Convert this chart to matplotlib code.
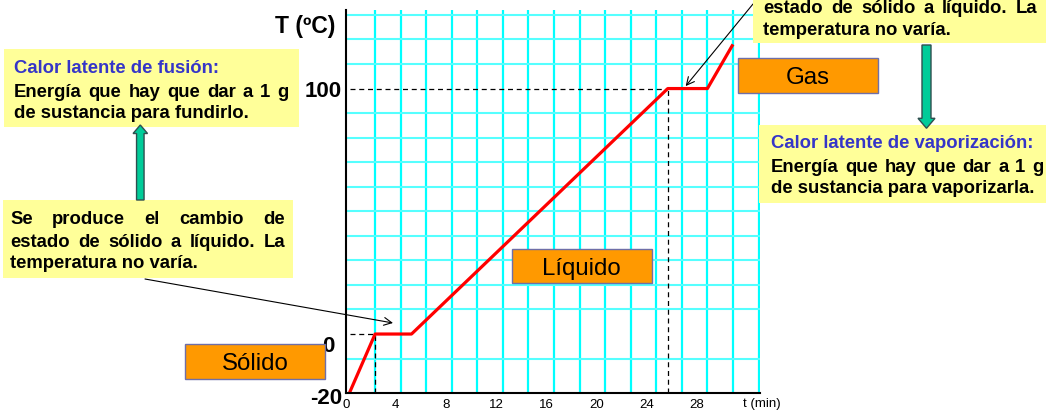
import numpy as np
import matplotlib
matplotlib.use('Agg')
from matplotlib import pyplot as plt
from matplotlib import patches
from matplotlib.transforms import Affine2D, ScaledTranslation

plt.rcParams['font.family'] = ['Liberation Sans', 'DejaVu Sans']

# heating curve (time in min, temperature in ºC)
t_min = [0, 2.0, 4.85, 24.9, 28.0, 30.0]
temp_c = [-20, 0, 0, 100, 100, 118]
x_ticks = [0, 4, 8, 12, 16, 20, 24, 28]
y_ticks = [-20, 0, 100]
t_fusion = 2.0
t_boil = 24.9

W, H = 1046, 411
fig = plt.figure(figsize=(W / 100, H / 100), dpi=100)
# pixel coords measured from top-left corner of the figure
pix = Affine2D().scale(1 / W, -1 / H).translate(0, 1) + fig.transFigure

ax = fig.add_axes([345.7 / W, 18.3 / H, 414.1 / W, 382.7 / H])

# below zero the drawing is a bit stretched
k_neg = 1.195
fwd = lambda v: np.where(np.asarray(v) < 0, np.asarray(v) * k_neg, v)
inv = lambda v: np.where(np.asarray(v) < 0, np.asarray(v) / k_neg, v)
ax.set_yscale('function', functions=(fwd, inv))
ax.set_xlim(0, 32.1)
ax.set_ylim(-20, 132)

# grid
ax.set_xticks(np.arange(2, 33, 2), minor=True)
ax.set_yticks(inv(np.arange(-10, 131, 10)), minor=True)
ax.grid(which='minor', axis='x', color='#00FFFF', lw=1.6)
ax.grid(which='minor', axis='y', color='#55FFFF', lw=1.5)
ax.grid(which='major', visible=False)
ax.set_axisbelow(True)
ax.tick_params(which='both', length=0)

ax.set_xticks([v * 0.98 - 0.3 for v in x_ticks], [str(v) for v in x_ticks], fontsize=9.5)
ax.tick_params(axis='x', pad=4.5)
ax.set_yticks(y_ticks, [str(v) for v in y_ticks], fontsize=16, fontweight='bold')
ax.tick_params(axis='y', pad=3)

for s in ['top', 'right']:
	ax.spines[s].set_visible(False)
for s in ['left', 'bottom']:
	ax.spines[s].set_linewidth(1.5)
	ax.spines[s].set_zorder(5)

# dashed guides
dash = dict(color='black', lw=0.9, ls=(0, (4, 3)), zorder=3)
ax.plot([0, t_fusion], [0, 0], **dash)
ax.plot([t_fusion, t_fusion], [-20, 0], **dash)
ax.plot([0, t_boil], [100, 100], **dash)
ax.plot([t_boil, t_boil], [-20, 100], **dash)

ax.plot(t_min, temp_c, color='#FF0000', lw=2.3, zorder=4, solid_capstyle='butt')

# nudge the y labels like in the drawing
ylabs = ax.get_yticklabels()
offs = {'0': (-7, -10), '-20': (1, -3)}
for lab, val in zip(ylabs, y_ticks):
	if str(val) in offs:
		dx, dy = offs[str(val)]
		lab.set_transform(lab.get_transform() + ScaledTranslation(dx / 100, dy / 100, fig.dpi_scale_trans))

fig.text(335 / W, 1 - 26 / H, 'T (ºC)', ha='right', va='center', fontsize=16.5, fontweight='bold')
fig.text(761.7 / W, 1 - 404 / H, 't (min)', ha='center', va='center', fontsize=9.5)

# thin arrows to the plateaus
ax.annotate('', xy=(3.4, 4.5), xycoords='data', xytext=(145, 279), textcoords=pix,
			arrowprops=dict(arrowstyle='->', lw=0.8, color='black', mutation_scale=14, shrinkA=0, shrinkB=0))
ax.annotate('', xy=(26.3, 101), xycoords='data', xytext=(753, 4), textcoords=pix,
			arrowprops=dict(arrowstyle='->', lw=0.8, color='black', mutation_scale=14, shrinkA=0, shrinkB=0))


def box(x0, y0, x1, y1, fc, ec='none', lw=0):
	fig.add_artist(patches.Rectangle((x0, y0), x1 - x0, y1 - y0, transform=pix, facecolor=fc,
									 edgecolor=ec, linewidth=lw, zorder=2))


renderer = fig.canvas.get_renderer()


def put_line(line, x0, x1, yb, justify=False, **kw):
	if not justify:
		fig.text(x0, yb, line, transform=pix, va='baseline', zorder=3, **kw)
		return
	words = line.split()
	objs = [fig.text(0, yb, w, transform=pix, va='baseline', zorder=3, **kw) for w in words]
	widths = [o.get_window_extent(renderer).width for o in objs]
	gap = ((x1 - x0) - sum(widths)) / (len(words) - 1)
	x = x0
	for o, w in zip(objs, widths):
		o.set_x(x)
		x += w + gap


yellow = '#FFFF99'
blue = '#3535C8'
bold = dict(fontsize=13.3, fontweight='bold')

box(4, 49.3, 299, 126.7, yellow)
put_line('Calor latente de fusión:', 14, 0, 73.3, color=blue, **bold)
put_line('Energía que hay que dar a 1 g', 14, 288.3, 96.7, True, **bold)
put_line('de sustancia para fundirlo.', 14, 0, 118.3, **bold)

box(3.3, 200, 293, 278, yellow)
put_line('Se produce el cambio de', 10, 285, 224, True, **bold)
put_line('estado de sólido a líquido. La', 10, 285, 246.5, True, **bold)
put_line('temperatura no varía.', 10, 0, 268, **bold)

box(753, -5, 1050, 43.3, yellow)
put_line('estado de sólido a líquido. La', 763, 1037.7, 13, True, **bold)
put_line('temperatura no varía.', 763, 0, 35, **bold)

box(759.3, 125, 1050, 202.7, yellow)
put_line('Calor latente de vaporización:', 770.7, 0, 148.3, color=blue, **bold)
put_line('Energía que hay que dar a 1 g', 770.7, 1043.3, 171.7, True, **bold)
put_line('de sustancia para vaporizarla.', 770.7, 0, 193.3, **bold)

# orange state boxes
orange = '#FF9900'
for label, (x0, y0, x1, y1) in [('Gas', (738, 58.3, 878, 93.3)),
								 ('Líquido', (511.7, 249.3, 651.7, 282.7)),
								 ('Sólido', (185, 344, 325, 379.3))]:
	box(x0, y0, x1, y1, orange, ec='#6F6FA8', lw=1)
	fig.text((x0 + x1) / 2, (y0 + y1) / 2 + 8.6, label, transform=pix, ha='center', va='baseline',
			 fontsize=17.3, zorder=3)

# green block arrows
green = dict(facecolor='#00CC99', edgecolor='#2F4F4F', linewidth=1, length_includes_head=True, zorder=3)
fig.add_artist(patches.FancyArrow(140.3, 200, 0, -75, width=7.5, head_width=14.5, head_length=8.5,
								  transform=pix, **green))
fig.add_artist(patches.FancyArrow(926.5, 45, 0, 83.3, width=9, head_width=17, head_length=10,
								  transform=pix, **green))

fig.savefig('out.png', dpi=100)
